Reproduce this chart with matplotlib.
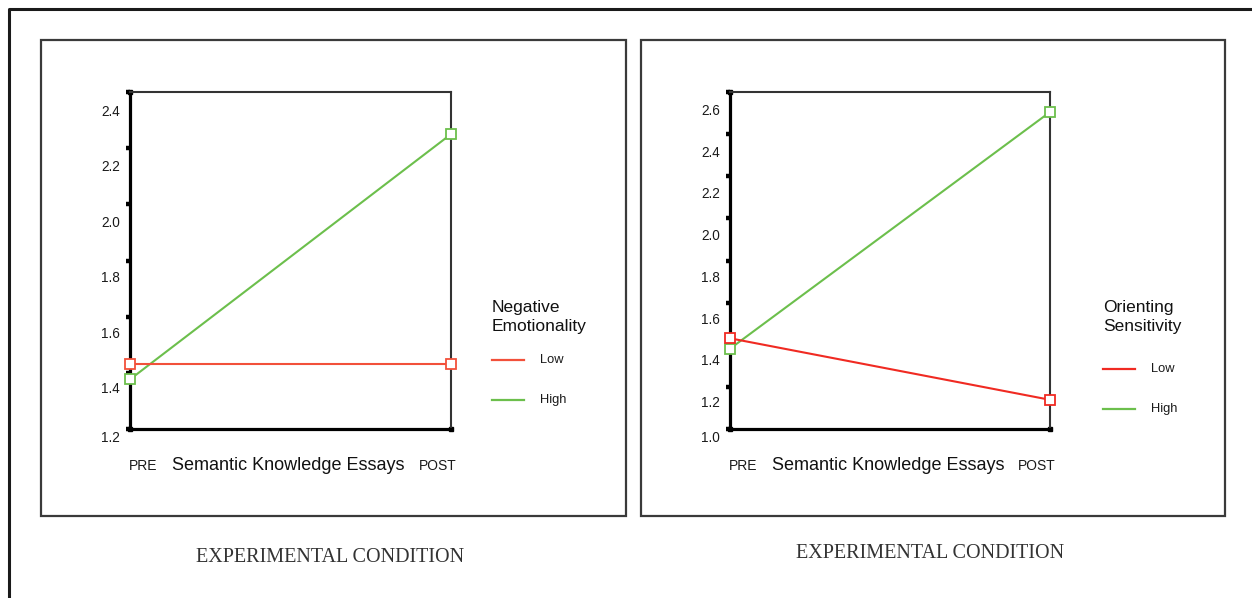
import numpy as np
import matplotlib
matplotlib.use("Agg")
import matplotlib.pyplot as plt
from matplotlib.lines import Line2D
from matplotlib.patches import Rectangle
from matplotlib.transforms import blended_transform_factory

# ---- data ----
conditions = ["PRE", "POST"]
x_title = "Semantic Knowledge Essays"
caption = "EXPERIMENTAL CONDITION"
series_names = ["Low", "High"]

neg_title = "Negative\nEmotionality"
neg_low = [1.49, 1.49]
neg_high = [1.435, 2.32]
neg_ticklabels = [1.2, 1.4, 1.6, 1.8, 2.0, 2.2, 2.4]

ori_title = "Orienting\nSensitivity"
ori_low = [1.51, 1.215]
ori_high = [1.46, 2.595]
ori_ticklabels = [1.0, 1.2, 1.4, 1.6, 1.8, 2.0, 2.2, 2.4, 2.6]

W, H = 1252, 598
fig = plt.figure(figsize=(W / 100, H / 100), dpi=100)
fig.patch.set_facecolor("white")
SANS = ["Liberation Sans", "DejaVu Sans"]
SERIF = ["Liberation Serif", "DejaVu Serif"]


def fx(x):
    return x / W


def fy(y):
    return 1 - y / H


# outer border (left and top)
fig.add_artist(Line2D([fx(9), fx(9), fx(W)], [fy(H), fy(9), fy(9)],
                      transform=fig.transFigure, color="#1a1a1a", lw=2.2))

GREEN = "#6cbf4c"


def panel(box, ax_px, ylim, ntick, ylabels, low, high, red, title, leg, cap):
    bx0, by0, bx1, by1 = box
    fig.add_artist(Rectangle((fx(bx0), fy(by1)), fx(bx1 - bx0), (by1 - by0) / H,
                             transform=fig.transFigure, fill=False,
                             edgecolor="#3a3a3a", lw=1.6))
    ax0, ay0, ax1, ay1 = ax_px
    ax = fig.add_axes([fx(ax0), fy(ay1), fx(ax1 - ax0), (ay1 - ay0) / H])
    ax.set_xlim(0, 1)
    ax.set_ylim(*ylim)
    xs = np.arange(len(conditions)) / (len(conditions) - 1)
    ax.plot(xs, low, color=red, lw=1.5, marker="s", ms=6.5, mfc="white",
            mec=red, mew=1.3, clip_on=False, zorder=5)
    ax.plot(xs, high, color=GREEN, lw=1.5, marker="s", ms=6.5, mfc="white",
            mec=GREEN, mew=1.3, clip_on=False, zorder=4)
    for s in ["left", "bottom"]:
        ax.spines[s].set_linewidth(2.3)
        ax.spines[s].set_color("black")
    for s in ["top", "right"]:
        ax.spines[s].set_linewidth(1.5)
        ax.spines[s].set_color("#333333")
    ax.set_xticks([])
    ax.set_yticks(np.linspace(ylim[0], ylim[1], ntick))
    ax.set_yticklabels([])
    ax.tick_params(axis="y", direction="out", length=3, width=3.2, color="black")
    ax.plot([1], [ylim[0]], marker="s", ms=3.5, color="black", clip_on=False)
    ax.plot([0], [ylim[1]], marker="s", ms=3.5, color="black", clip_on=False)
    ax.plot([0], [ylim[0]], marker="s", ms=3.5, color="black", clip_on=False)
    tr = blended_transform_factory(ax.transAxes, ax.transData)
    span = ylim[1] - ylim[0]
    px_per = (ay1 - ay0) / span
    for v in ylabels:
        yv = max(v, ylim[0] - 9 / px_per)
        ax.text(-10 / (ax1 - ax0), yv, f"{v:.1f}", transform=tr, ha="right",
                va="center", fontsize=9.8, family=SANS, color="#1a1a1a",
                clip_on=False)
    # x labels
    fig.text(fx(ax0 + 13), fy(466), conditions[0], ha="center", va="center",
             fontsize=10, family=SANS, color="#1a1a1a")
    fig.text(fx(ax1 - 13), fy(466), conditions[1], ha="center", va="center",
             fontsize=10, family=SANS, color="#1a1a1a")
    fig.text(fx((ax0 + ax1) / 2 - 2), fy(466), x_title, ha="center", va="center",
             fontsize=13, family=SANS, color="#111111")
    # legend
    lx, ty, ly1, ly2, tx = leg
    fig.text(fx(lx), fy(ty), title, ha="left", va="center", fontsize=12.5,
             family=SANS, color="#111111", linespacing=1.4)
    for yy, col, name in [(ly1, red, series_names[0]), (ly2, GREEN, series_names[1])]:
        fig.add_artist(Line2D([fx(lx), fx(lx + 32)], [fy(yy), fy(yy)],
                              transform=fig.transFigure, color=col, lw=1.6))
        fig.text(fx(tx), fy(yy), name, ha="left", va="center", fontsize=9.3,
                 family=SANS, color="#1a1a1a")
    cx, cy = cap
    fig.text(fx(cx), fy(cy), caption, ha="center", va="center", fontsize=14.5,
             family=SERIF, color="#333333")


panel((41, 40, 626, 516), (130, 92, 451, 429), (1.256, 2.472), 7,
      neg_ticklabels, neg_low, neg_high, "#f2503a", neg_title,
      (492, 317, 360, 400, 540), (330, 557))
panel((641, 40, 1225, 516), (730, 92, 1050, 429), (1.075, 2.691), 9,
      ori_ticklabels, ori_low, ori_high, "#f02a22", ori_title,
      (1103, 317, 369, 409, 1151), (930, 553))

fig.savefig("out.png", dpi=100, facecolor="white")
